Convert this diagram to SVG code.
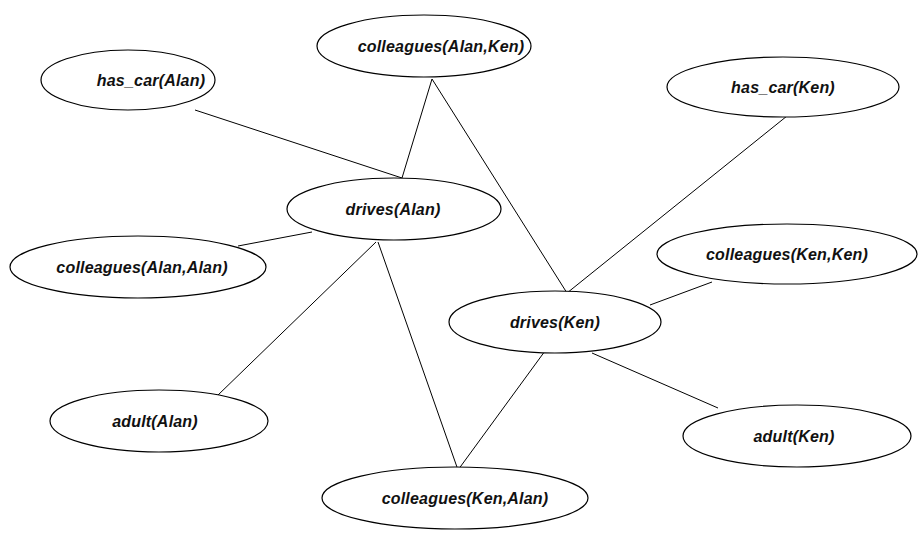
<svg xmlns="http://www.w3.org/2000/svg" width="919" height="535" viewBox="0 0 919 535">
<style>
ellipse{fill:#fff;stroke:#000;stroke-width:1.2}
text{font-family:"Liberation Sans",Arial,sans-serif;font-size:16px;font-weight:bold;font-style:italic;text-anchor:middle;fill:#111;letter-spacing:0.2px}
.c line{stroke:#000;stroke-width:1}
</style>
<rect width="919" height="535" fill="#fff"/>
<g class="c" id="connectors">
<line x1="195" y1="110" x2="402" y2="178"/>
<line x1="432" y1="79" x2="402" y2="178"/>
<line x1="432" y1="79" x2="567" y2="293"/>
<line x1="787" y1="116" x2="567" y2="293"/>
<line x1="312" y1="232" x2="238" y2="246"/>
<line x1="376" y1="242" x2="217" y2="396"/>
<line x1="378" y1="242" x2="458" y2="470"/>
<line x1="545" y1="351" x2="458" y2="470"/>
<line x1="650" y1="305" x2="712" y2="282"/>
<line x1="592" y1="353" x2="718" y2="408"/>
</g>
<g id="colleagues_Alan_Ken"><ellipse cx="424" cy="46" rx="107" ry="31"/><text x="441" y="52">colleagues(Alan,Ken)</text></g>
<g id="has_car_Alan"><ellipse cx="128" cy="80" rx="87" ry="30"/><text x="151" y="86">has_car(Alan)</text></g>
<g id="has_car_Ken"><ellipse cx="783" cy="87" rx="116" ry="30"/><text x="783" y="93">has_car(Ken)</text></g>
<g id="drives_Alan"><ellipse cx="394" cy="209" rx="107" ry="31"/><text x="393" y="215">drives(Alan)</text></g>
<g id="colleagues_Alan_Alan"><ellipse cx="138" cy="267" rx="128" ry="31"/><text x="142" y="273">colleagues(Alan,Alan)</text></g>
<g id="colleagues_Ken_Ken"><ellipse cx="787" cy="254" rx="130" ry="30"/><text x="787" y="260">colleagues(Ken,Ken)</text></g>
<g id="drives_Ken"><ellipse cx="555" cy="322" rx="106" ry="31"/><text x="555" y="328">drives(Ken)</text></g>
<g id="adult_Alan"><ellipse cx="159" cy="421" rx="109" ry="31"/><text x="155" y="427">adult(Alan)</text></g>
<g id="adult_Ken"><ellipse cx="797" cy="436" rx="114" ry="31"/><text x="794" y="442">adult(Ken)</text></g>
<g id="colleagues_Ken_Alan"><ellipse cx="455" cy="498" rx="133" ry="31"/><text x="465" y="504">colleagues(Ken,Alan)</text></g>
</svg>
